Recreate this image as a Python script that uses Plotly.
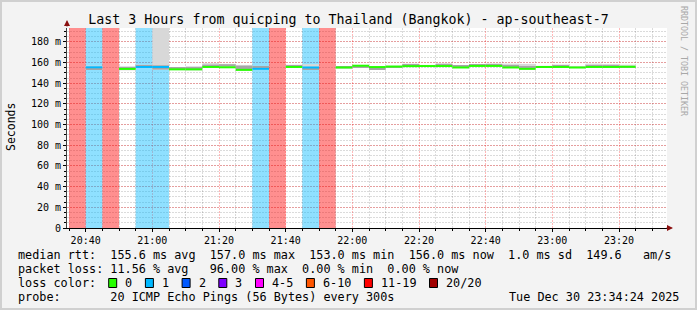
import plotly.graph_objects as go
import pandas as pd

# ---------------- data ----------------
DAY = "2025-12-30"
slot_start = ["20:35", "20:40", "20:45", "20:50", "20:55", "21:00", "21:05", "21:10",
              "21:15", "21:20", "21:25", "21:30", "21:35", "21:40", "21:45", "21:50",
              "21:55", "22:00", "22:05", "22:10", "22:15", "22:20", "22:25", "22:30",
              "22:35", "22:40", "22:45", "22:50", "22:55", "23:00", "23:05", "23:10",
              "23:15", "23:20"]
loss_pings = [19, 1, 19, 0, 1, 1, 0, 0, 0, 0, 0, 1, 19, 0, 1, 19,
              0, 0, 0, 0, 0, 0, 0, 0, 0, 0, 0, 0, 0, 0, 0, 0, 0, 0]
median_rtt = [None, 155.5, None, 153.9, 155.8, 155.8, 153.5, 153.5, 155.8, 155.5,
              153.0, 154.0, None, 155.8, 155.3, None, 155.3, 157.0, 155.7, 156.2,
              156.6, 156.7, 156.7, 155.3, 156.8, 156.8, 155.3, 154.0, 155.8, 155.8,
              155.3, 155.8, 155.8, 156.0]
smoke_lo = [None, 153.0, None, 152.5, 155.0, 153.0, 152.8, 152.5, 155.0, 154.8,
            152.0, 153.2, None, 155.0, 153.5, None, 154.6, 155.0, 153.5, 155.5,
            155.8, 156.0, 155.8, 154.8, 156.0, 156.0, 154.8, 153.0, 155.4, 155.0,
            154.6, 155.2, 155.4, 155.0]
smoke_hi = [None, 157.0, None, 156.5, 158.0, 200.0, 155.5, 156.5, 159.5, 158.8,
            157.8, 156.8, None, 158.0, 158.5, None, 156.4, 157.8, 156.5, 157.0,
            159.0, 157.8, 159.5, 157.6, 157.8, 159.2, 159.0, 158.8, 157.0, 158.2,
            156.8, 159.0, 158.6, 158.0]
core_lo = [None, 153.4, None, 154.6, 156.6, 153.3, 154.6, 154.4, 156.6, 156.4,
           153.8, 154.8, None, 156.6, 153.7, None, 155.0, 155.3, 153.8, 155.6,
           157.6, 156.0, 157.6, 156.2, 157.6, 157.8, 156.2, 155.0, 155.6, 157.0,
           154.8, 156.6, 156.6, 155.2]
core_hi = [None, 154.5, None, 155.3, 157.5, 157.4, 155.4, 155.4, 158.0, 158.4,
           157.0, 156.2, None, 157.5, 154.4, None, 156.0, 156.2, 154.8, 155.9,
           158.6, 156.2, 158.4, 157.2, 158.0, 158.6, 157.4, 156.4, 155.9, 157.6,
           155.1, 157.6, 157.4, 155.6]

loss_labels = ["0", "1", "2", "3", "4-5", "6-10", "11-19", "20/20"]
loss_colors = ["#26ff00", "#00b8ff", "#0059ff", "#7e00ff", "#ff00ff", "#ff5500", "#ff0000", "#a10000"]
loss_upper = [0, 1, 2, 3, 5, 10, 19, 20]

y_tickvals = [0, 20, 40, 60, 80, 100, 120, 140, 160, 180]
y_ticktext = ["0", "20 m", "40 m", "60 m", "80 m", "100 m", "120 m", "140 m", "160 m", "180 m"]

rtt_stats = [155.6, 157.0, 153.0, 156.0, 1.0]
am_per_s = 149.6
loss_stats = [11.56, 96.00, 0.00, 0.00]
title_text = "Last 3 Hours from quicping to Thailand (Bangkok) - ap-southeast-7"
probe_text = "20 ICMP Echo Pings (56 Bytes) every 300s"
stamp_text = "Tue Dec 30 23:34:24 2025"
x_start = "2025-12-30 20:34:24"
x_end = "2025-12-30 23:34:24"

# ---------------- layout helpers ----------------
W, H = 697, 310
L, R, T, B = 67, 30, 28, 82
PW, PH = W - L - R, H - T - B
Y_TOP = 193.5
MONO = "DejaVu Sans Mono"


def fx(px):
    return (px - L) / PW


def fy(py):
    return (T + PH - py) / PH


def hex_rgba(h, a):
    h = h.lstrip("#")
    return "rgba(%d,%d,%d,%.3f)" % (int(h[0:2], 16), int(h[2:4], 16), int(h[4:6], 16), a)


def loss_bin(n):
    for i, u in enumerate(loss_upper):
        if n <= u:
            return i
    return len(loss_upper) - 1


x_center = [pd.Timestamp(f"{DAY} {t}") + pd.Timedelta(seconds=150) for t in slot_start]
STEP_MS = 300000

fig = go.Figure()

# loss shading (full height)
idx = [i for i, n in enumerate(loss_pings) if n > 0]
fig.add_trace(go.Bar(
    x=[x_center[i] for i in idx], base=[0] * len(idx), y=[Y_TOP + 10] * len(idx),
    width=STEP_MS,
    marker=dict(color=[hex_rgba(loss_colors[loss_bin(loss_pings[i])], 0.44) for i in idx],
                line=dict(width=0)),
    hoverinfo="skip", showlegend=False))

# smoke outer
idx = [i for i, v in enumerate(smoke_lo) if v is not None]
fig.add_trace(go.Bar(
    x=[x_center[i] for i in idx], base=[smoke_lo[i] for i in idx],
    y=[smoke_hi[i] - smoke_lo[i] for i in idx], width=STEP_MS,
    marker=dict(color="#d8d8d8", line=dict(width=0)), hoverinfo="skip", showlegend=False))
# smoke core
idx = [i for i, v in enumerate(core_lo) if v is not None]
fig.add_trace(go.Bar(
    x=[x_center[i] for i in idx], base=[core_lo[i] for i in idx],
    y=[core_hi[i] - core_lo[i] for i in idx], width=STEP_MS,
    marker=dict(color="#a6a6a6", line=dict(width=0)), hoverinfo="skip", showlegend=False))

# median lines
LINE_H = 2.0 * Y_TOP / PH
idx = [i for i, v in enumerate(median_rtt) if v is not None]
fig.add_trace(go.Bar(
    x=[x_center[i] for i in idx], base=[median_rtt[i] - LINE_H / 2 for i in idx],
    y=[LINE_H] * len(idx), width=STEP_MS,
    marker=dict(color=[loss_colors[loss_bin(loss_pings[i])] for i in idx], line=dict(width=0)),
    hoverinfo="skip", showlegend=False))

GRID_MAJ = "rgba(255,0,0,0.28)"
GRID_MIN = "rgba(0,0,0,0.14)"

fig.update_layout(
    width=W, height=H, margin=dict(l=L, r=R, t=T, b=B, pad=0),
    paper_bgcolor="#f3f3f3", plot_bgcolor="#ffffff",
    barmode="overlay", showlegend=False,
    font=dict(family=MONO, size=10, color="#000000"),
    title=dict(text=title_text, x=0.5, xref="container", xanchor="center",
               y=1 - 19 / H, yref="container", yanchor="middle",
               font=dict(family=MONO, size=13.3, color="#000000")),
    xaxis=dict(type="date", range=[x_start, x_end], tick0="2025-12-30 20:40:00",
               dtick=1200000, tickformat="%H:%M", showgrid=True, gridcolor=GRID_MAJ,
               griddash="2px,1px", gridwidth=1, showline=True, linecolor="#000000",
               linewidth=1, ticks="outside", ticklen=3, tickcolor="#000000",
               zeroline=False, tickfont=dict(family=MONO, size=10, color="#000000"),
               minor=dict(tick0="2025-12-30 20:40:00", dtick=STEP_MS, showgrid=True,
                          gridcolor=GRID_MIN, griddash="2px,1px", gridwidth=1,
                          ticks="outside", ticklen=2, tickcolor="#000000")),
    yaxis=dict(range=[0, Y_TOP], tickmode="array", tickvals=y_tickvals, ticktext=y_ticktext,
               showgrid=True, gridcolor=GRID_MAJ, griddash="2px,1px", gridwidth=1,
               showline=True, linecolor="#404040", linewidth=1, ticks="outside",
               ticklen=3, tickcolor="#000000", zeroline=False,
               tickfont=dict(family=MONO, size=10, color="#000000"),
               minor=dict(tickmode="linear", tick0=0, dtick=5, showgrid=True,
                          gridcolor=GRID_MIN, griddash="2px,1px", gridwidth=1,
                          ticks="outside", ticklen=2, tickcolor="#000000")),
)

NB = "\u00a0"


def mono(s):
    return s.replace(" ", NB)


ann = []
# y axis title
ann.append(dict(text="Seconds", x=fx(11), y=fy(127), xref="paper", yref="paper",
                showarrow=False, textangle=-90, xanchor="center", yanchor="middle",
                font=dict(family=MONO, size=11.5, color="#000000")))
# watermark
ann.append(dict(text="RRDTOOL / TOBI OETIKER", x=fx(684), y=fy(4), xref="paper", yref="paper",
                showarrow=False, textangle=90, xanchor="center", yanchor="top",
                font=dict(family=MONO, size=8.3, color="#a8a8a8")))
# axis arrows
ann.append(dict(text="", x=fx(673), y=fy(228), xref="paper", yref="paper", showarrow=True,
                ax=-8, ay=0, arrowhead=2, arrowsize=1.2, arrowwidth=1, arrowcolor="#8b1010"))
ann.append(dict(text="", x=fx(67), y=fy(20), xref="paper", yref="paper", showarrow=True,
                ax=0, ay=8, arrowhead=2, arrowsize=1.2, arrowwidth=1, arrowcolor="#8b1010"))

LEG_FONT = dict(family=MONO, size=11.8, color="#000000")
CW = 7.1
LX = 16.4
row1 = ("median rtt:  %.1f ms avg  %.1f ms max  %.1f ms min  %.1f ms now  %.1f ms sd  %.1f   am/s"
        % (rtt_stats[0], rtt_stats[1], rtt_stats[2], rtt_stats[3], rtt_stats[4], am_per_s))
row2 = ("packet loss: %.2f %% avg   %.2f %% max  %.2f %% min  %.2f %% now"
        % (loss_stats[0], loss_stats[1], loss_stats[2], loss_stats[3]))
row4 = "probe:       " + probe_text
rows_y = [255, 269, 283, 297]
for txt, yy in [(row1, rows_y[0]), (row2, rows_y[1]), ("loss color:", rows_y[2]), (row4, rows_y[3])]:
    ann.append(dict(text=mono(txt), x=fx(LX), y=fy(yy), xref="paper", yref="paper",
                    showarrow=False, xanchor="left", yanchor="middle", font=LEG_FONT))
ann.append(dict(text=mono(stamp_text), x=fx(681), y=fy(rows_y[3]), xref="paper", yref="paper",
                showarrow=False, xanchor="right", yanchor="middle", font=LEG_FONT))

shapes = []
bx = LX + 13 * CW
for lab, col in zip(loss_labels, loss_colors):
    shapes.append(dict(type="rect", xref="paper", yref="paper",
                       x0=fx(bx), x1=fx(bx + 8), y0=fy(rows_y[2] + 4.5), y1=fy(rows_y[2] - 4.5),
                       fillcolor=col, line=dict(color="#000000", width=1)))
    tx = bx + 14.6
    ann.append(dict(text=mono(lab), x=fx(tx), y=fy(rows_y[2]), xref="paper", yref="paper",
                    showarrow=False, xanchor="left", yanchor="middle", font=LEG_FONT))
    bx = tx + len(lab) * CW + 15

# outer frame
shapes.append(dict(type="rect", xref="paper", yref="paper", x0=fx(1), x1=fx(W - 1),
                   y0=fy(H - 1), y1=fy(1), line=dict(color="#d0d0d0", width=2),
                   fillcolor="rgba(0,0,0,0)", layer="below"))

fig.update_layout(annotations=ann, shapes=shapes)
fig.write_html("out.html")
